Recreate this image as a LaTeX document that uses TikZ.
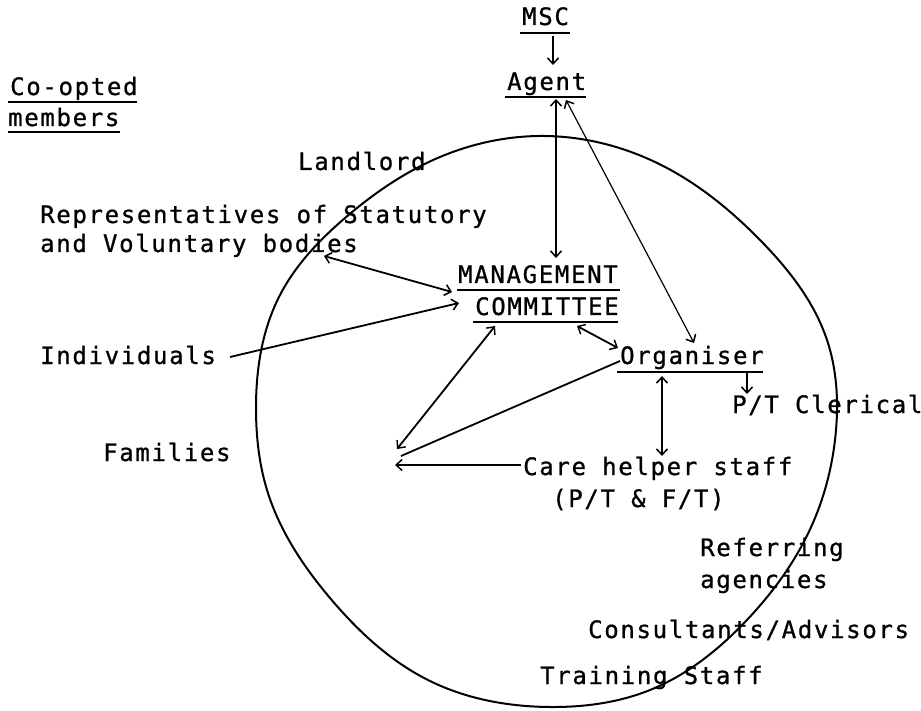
\documentclass[tikz,border=0pt]{standalone}
\usepackage{fontspec}
\usetikzlibrary{arrows.meta,hobby}
\newfontfamily\tw{DejaVu Sans Mono}[LetterSpace=7,FakeBold=0.9]
\begin{document}
\begin{tikzpicture}[x=1pt,y=-1pt,
  txt/.style={font=\tw\fontsize{24}{28}\selectfont, inner sep=0pt, anchor=base west},
  uline/.style={line width=2pt},
  conn/.style={line width=1.8pt},
  thinconn/.style={line width=1.2pt},
  >={Straight Barb[length=6pt,width=11pt,line width=1.5pt]}]
\useasboundingbox (0,0) rectangle (921,711);

% big hand-drawn circle
\draw[line width=2pt, use Hobby shortcut, closed=true]
 (545,136) .. (667,168) .. (760,240) .. (827,340) .. (836,430) .. (812,525)
 .. (745,622) .. (650,690) .. (550,707) .. (430,681) .. (330,598) .. (267,490)
 .. (256,410) .. (280,295) .. (345,218) .. (440,157);

% texts
\node[txt] (msc) at (522,25) {MSC};
\node[txt] (agent) at (507,90) {Agent};
\node[txt] (coopt) at (10,95) {Co-opted};
\node[txt] (members) at (8,126) {members};
\node[txt] (landlord) at (298,170) {Landlord};
\node[txt] (reps) at (40,223) {Representatives of Statutory};
\node[txt] (repsb) at (40,252) {and Voluntary bodies};
\node[txt] (mgmt) at (458,283) {MANAGEMENT};
\node[txt] (comm) at (475,315) {COMMITTEE};
\node[txt] (indiv) at (40,364) {Individuals};
\node[txt] (org) at (620,364) {Organiser};
\node[txt] (clerical) at (732,413) {P/T Clerical};
\node[txt] (families) at (103,461) {Families};
\node[txt] (care) at (523,475) {Care helper staff};
\node[txt] (carept) at (552,507) {(P/T \& F/T)};
\node[txt] (refer) at (700,556) {Referring};
\node[txt] (agencies) at (700,588) {agencies};
\node[txt] (consult) at (588,638) {Consultants/Advisors};
\node[txt] (train) at (540,684) {Training Staff};

% underlines
\draw[uline] (520,33) -- (570,33);
\draw[uline] (505,97) -- (586,97);
\draw[uline] (8,102) -- (137,102);
\draw[uline] (8,132) -- (120,132);
\draw[uline] (457,290) -- (620,290);
\draw[uline] (473,322) -- (618,322);
\draw[uline] (617,372) -- (763,372);

% connector end points
\coordinate (mscS) at (553,36);
\coordinate (agentN) at (553,65);
\coordinate (agentS) at (556,99);
\coordinate (mgmtN) at (556,258);
\coordinate (agentSE) at (566,100);
\coordinate (orgN) at (694,343);
\coordinate (repsE) at (324,256);
\coordinate (mgmtW) at (452,292);
\coordinate (indivE) at (230,357);
\coordinate (commW) at (459,303);
\coordinate (commSW) at (495,326);
\coordinate (hubA) at (397,449);
\coordinate (commSE) at (577,326);
\coordinate (orgW) at (618,348);
\coordinate (orgSW) at (620,361);
\coordinate (hubB) at (401,456);
\coordinate (careW) at (521,465);
\coordinate (hubC) at (395,465);
\coordinate (orgS) at (662,376);
\coordinate (careN) at (662,456);
\coordinate (orgSE) at (747,372);
\coordinate (clericalN) at (747,394);

% connectors
\draw[conn,->] (mscS) -- (agentN);
\draw[conn,<->] (agentS) -- (mgmtN);
\draw[thinconn,<->] (agentSE) -- (orgN);
\draw[conn,<->] (repsE) -- (mgmtW);
\draw[conn,->] (indivE) -- (commW);
\draw[conn,<->] (commSW) -- (hubA);
\draw[conn,<->] (commSE) -- (orgW);
\draw[conn] (orgSW) -- (hubB);
\draw[conn,->] (careW) -- (hubC);
\draw[conn,<->] (orgS) -- (careN);
\draw[conn,->] (orgSE) -- (clericalN);
\end{tikzpicture}
\end{document}
